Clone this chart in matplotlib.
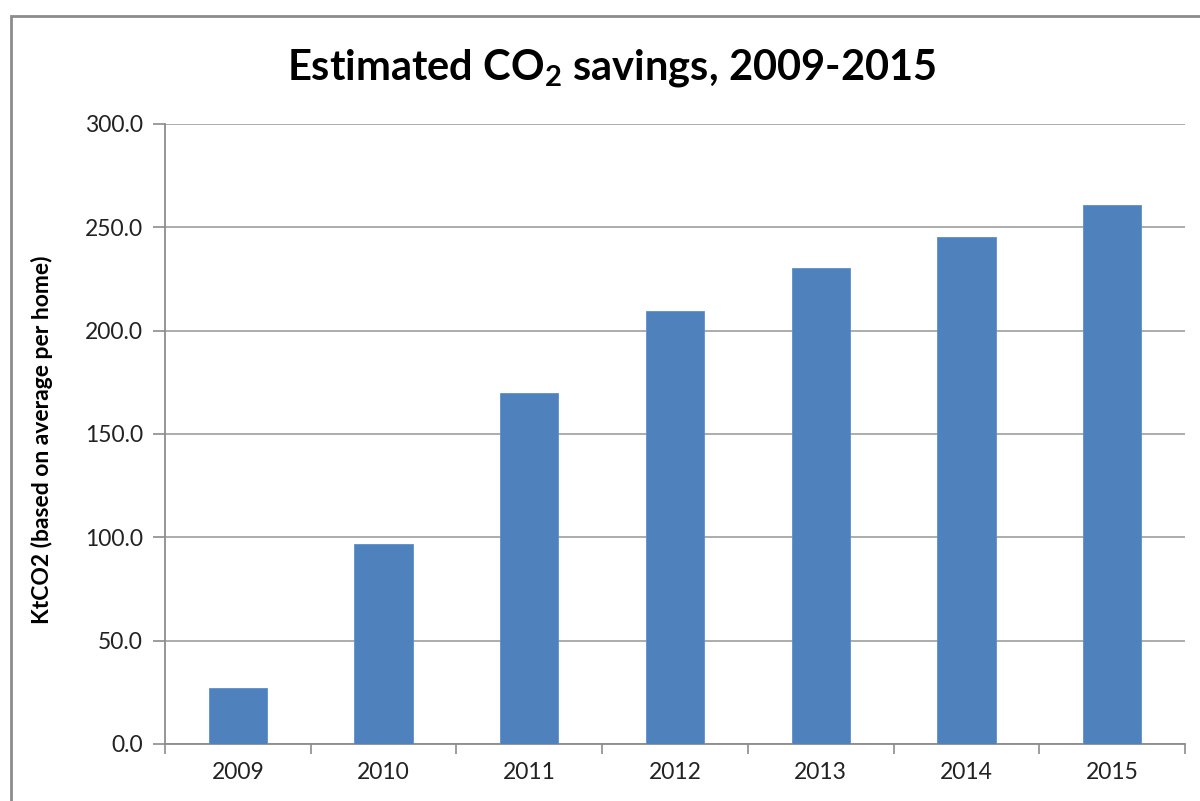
import matplotlib
matplotlib.use('Agg')
import matplotlib.pyplot as plt
from matplotlib.patches import Rectangle

years = ['2009', '2010', '2011', '2012', '2013', '2014', '2015']
savings = [27.1, 96.8, 169.8, 209.5, 230.3, 245.3, 260.8]
yticks = [0, 50, 100, 150, 200, 250, 300]

plt.rcParams['font.family'] = ['Lato', 'DejaVu Sans']
plt.rcParams['mathtext.fontset'] = 'custom'
plt.rcParams['mathtext.rm'] = 'Lato:bold'

W, H = 1200, 801
fig = plt.figure(figsize=(W / 100, H / 100), dpi=100)

# outer chart frame (right/bottom edges fall outside the image)
fig.patches.append(Rectangle((11 / W, -0.05), 1.1, 1 - 16 / H + 0.05, transform=fig.transFigure,
                             fill=False, edgecolor='#8c8c8c', linewidth=2))

left, right, top, bottom = 165, 1185, 124, 744
ax = fig.add_axes([left / W, 1 - bottom / H, (right - left) / W, (bottom - top) / H])

x = range(len(years))
ax.bar(x, savings, width=0.4, color='#4f81bd', edgecolor='#5b8fd0', linewidth=0.6, zorder=3)
ax.set_xlim(-0.5, len(years) - 0.5)
ax.set_ylim(0, 300)
ax.set_yticks(yticks)
ax.set_yticklabels([f'{v:.1f}' for v in yticks], fontsize=16.5, color='#222222')
ax.set_xticks(list(x))
ax.set_xticklabels(years, fontsize=16.5, color='#222222')
ax.tick_params(axis='x', length=0, pad=13)
ax.set_xticks([i - 0.5 for i in range(len(years) + 1)], minor=True)
ax.tick_params(axis='x', which='minor', length=7, color='#8c8c8c', width=1.2)
ax.tick_params(axis='y', length=9, color='#8c8c8c', width=1.2, pad=7)
ax.grid(axis='y', color='#a6a6a6', linewidth=1.3, zorder=0)
for s in ['top', 'right']:
    ax.spines[s].set_visible(False)
for s in ['left', 'bottom']:
    ax.spines[s].set_color('#8c8c8c')
    ax.spines[s].set_linewidth(1.3)

fig.text(612 / W, 1 - 68 / H, 'Estimated CO$_\\mathrm{2}$ savings, 2009-2015', ha='center', va='center',
         fontsize=30, fontweight='bold', color='black')
fig.text(42 / W, 1 - 440 / H, 'KtCO2 (based on average per home)', rotation=90, ha='center',
         va='center', fontsize=16.5, fontweight='bold', color='black')

fig.savefig('out.png', dpi=100)
